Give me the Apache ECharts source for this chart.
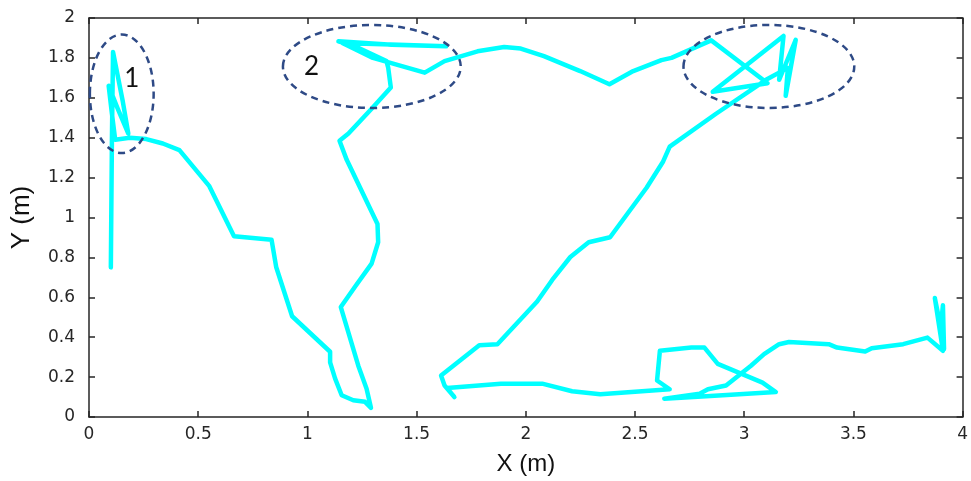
<!DOCTYPE html>
<html>
<head>
<meta charset="utf-8">
<script src="https://cdn.jsdelivr.net/npm/echarts@6/dist/echarts.min.js"></script>
<style>
  html, body { margin: 0; padding: 0; background: #fff; }
  #main { width: 971px; height: 481px; }
</style>
</head>
<body>
<div id="main"></div>
<script>
// trajectory (metres)
const pathX = [
  0.10, 0.105, 0.11, 0.155, 0.18, 0.13, 0.09, 0.105, 0.12, 0.187,
  0.262, 0.338, 0.414, 0.551, 0.664, 0.836, 0.857, 0.930, 1.104, 1.104,
  1.127, 1.157, 1.21, 1.264, 1.291, 1.271, 1.233, 1.153, 1.218, 1.294,
  1.324, 1.321, 1.18, 1.147, 1.188, 1.294, 1.382, 1.37, 1.362, 1.218,
  1.142, 1.385, 1.635, 1.16, 1.30, 1.537, 1.628, 1.779, 1.901, 1.977,
  2.083, 2.249, 2.383, 2.492, 2.621, 2.667, 2.849, 3.107, 2.856, 3.18,
  3.16, 3.236, 3.19, 3.20, 3.10, 2.871, 2.659, 2.629, 2.553, 2.386,
  2.288, 2.204, 2.121, 2.052, 1.870, 1.787, 1.612, 1.628, 1.673, 1.64,
  1.886, 2.075, 2.212, 2.341, 2.659, 2.601, 2.614, 2.758, 2.818, 2.879,
  3.084, 3.145, 2.902, 2.634, 2.796, 2.834, 2.917, 3.031, 3.091, 3.16,
  3.205, 3.387, 3.425, 3.554, 3.584, 3.728, 3.839, 3.91, 3.873, 3.90,
  3.91, 3.915
]
const pathY = [
  0.75, 1.40, 1.83, 1.58, 1.42, 1.55, 1.66, 1.52, 1.39, 1.40,
  1.393, 1.371, 1.338, 1.157, 0.906, 0.888, 0.752, 0.505, 0.327, 0.274,
  0.192, 0.109, 0.084, 0.076, 0.046, 0.142, 0.257, 0.551, 0.653, 0.769,
  0.876, 0.967, 1.289, 1.385, 1.421, 1.545, 1.652, 1.751, 1.784, 1.858,
  1.883, 1.866, 1.858, 1.875, 1.80, 1.726, 1.784, 1.833, 1.855, 1.847,
  1.809, 1.734, 1.668, 1.734, 1.789, 1.80, 1.888, 1.673, 1.63, 1.91,
  1.69, 1.891, 1.61, 1.75, 1.69, 1.52, 1.355, 1.281, 1.149, 0.901,
  0.876, 0.802, 0.687, 0.579, 0.365, 0.36, 0.208, 0.158, 0.10, 0.145,
  0.167, 0.167, 0.129, 0.114, 0.139, 0.183, 0.332, 0.348, 0.348, 0.266,
  0.172, 0.125, 0.109, 0.092, 0.117, 0.139, 0.158, 0.257, 0.315, 0.365,
  0.376, 0.365, 0.348, 0.328, 0.345, 0.365, 0.398, 0.332, 0.596, 0.45,
  0.56, 0.34
]

// dashed ellipses marking the zones: centre x, centre y, radius x, radius y (metres)
const zoneCx = [0.15, 1.295, 3.113]
const zoneCy = [1.62, 1.757, 1.757]
const zoneRx = [0.146, 0.407, 0.391]
const zoneRy = [0.297, 0.208, 0.208]
// zone numbers
const zoneText = ['1', '2']
const zoneTextX = [0.196, 1.019]
const zoneTextY = [1.698, 1.757]

const axisColor = '#262626'
const font = 'DejaVu Sans, Liberation Sans, sans-serif'

const chart = echarts.init(document.getElementById('main'))

const boxAxis = {
  type: 'value',
  axisLine: { show: true, onZero: false, lineStyle: { color: axisColor, width: 1.5 } },
  axisTick: { show: true, inside: true, length: 6, lineStyle: { color: axisColor, width: 1.5 } },
  splitLine: { show: false }
}

const opt = {
  backgroundColor: '#fff',
  animation: false,
  grid: { left: 89, right: 3, top: 18, bottom: 59 },
  xAxis: [
    {
      ...boxAxis,
      position: 'bottom',
      min: 0, max: 4, interval: 0.5,
      axisLabel: { color: axisColor, fontSize: 17, fontFamily: font, margin: 9 },
      name: 'X (m)',
      nameLocation: 'middle',
      nameGap: 35,
      nameTextStyle: { color: '#111', fontSize: 24, fontFamily: 'Liberation Sans, sans-serif' }
    },
    {
      ...boxAxis,
      position: 'top',
      min: 0, max: 4, interval: 0.5,
      axisLabel: { show: false }
    }
  ],
  yAxis: [
    {
      ...boxAxis,
      position: 'left',
      min: 0, max: 2, interval: 0.2,
      axisLabel: { color: axisColor, fontSize: 17, fontFamily: font, margin: 14 },
      name: 'Y (m)',
      nameLocation: 'middle',
      nameGap: 54,
      nameTextStyle: { color: '#111', fontSize: 26, fontFamily: 'Liberation Sans, sans-serif' }
    },
    {
      ...boxAxis,
      position: 'right',
      min: 0, max: 2, interval: 0.2,
      axisLabel: { show: false }
    }
  ],
  series: [
    {
      type: 'line',
      xAxisIndex: 0,
      yAxisIndex: 0,
      data: pathX.map((x, i) => [x, pathY[i]]),
      showSymbol: false,
      lineStyle: { color: '#00ffff', width: 4.5, join: 'round', cap: 'round' }
    }
  ]
}

chart.setOption(opt)

// ellipses and numbers placed through the grid's own scale
const graphics = []
zoneCx.forEach((cx, i) => {
  const c = chart.convertToPixel({ gridIndex: 0 }, [cx, zoneCy[i]])
  const e = chart.convertToPixel({ gridIndex: 0 }, [cx + zoneRx[i], zoneCy[i] + zoneRy[i]])
  graphics.push({
    type: 'ellipse',
    shape: { cx: c[0], cy: c[1], rx: Math.abs(e[0] - c[0]), ry: Math.abs(c[1] - e[1]) },
    style: { fill: null, stroke: '#2e4a86', lineWidth: 2.5, lineDash: [7, 5] },
    z: 10
  })
})
zoneText.forEach((t, i) => {
  const p = chart.convertToPixel({ gridIndex: 0 }, [zoneTextX[i], zoneTextY[i]])
  graphics.push({
    type: 'text',
    x: p[0], y: p[1],
    style: { text: t, fill: '#111', fontSize: 26, fontFamily: 'Lato, sans-serif', align: 'center', verticalAlign: 'middle' },
    z: 10
  })
})
chart.setOption({ graphic: graphics })
</script>
</body>
</html>
